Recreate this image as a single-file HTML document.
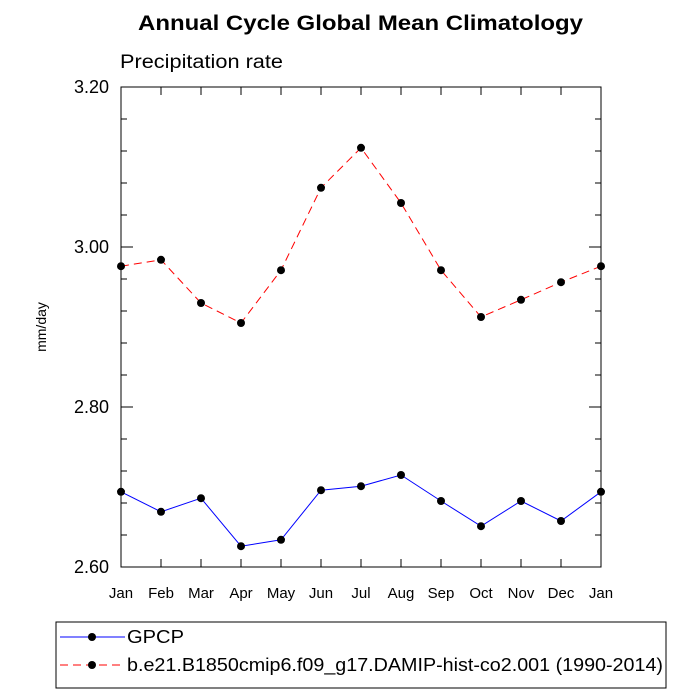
<!DOCTYPE html>
<html><head><meta charset="utf-8"><style>body{margin:0;background:#fff}svg{display:block;font-family:"Liberation Sans",sans-serif}</style></head>
<body>
<svg id="c" width="700" height="700">
<text x="138" y="30" font-size="21" font-weight="bold" textLength="445" lengthAdjust="spacingAndGlyphs">Annual Cycle Global Mean Climatology</text>
<text x="120" y="68" font-size="19" textLength="163" lengthAdjust="spacingAndGlyphs">Precipitation rate</text>
<text transform="translate(46,327) rotate(-90)" text-anchor="middle" font-size="14">mm/day</text>
<rect x="121" y="87" width="480" height="480" fill="none" stroke="#000" stroke-width="1"/>
<g id="ax"></g><g id="series"></g>
<rect x="56" y="622" width="610" height="66" fill="none" stroke="#000"/>
<g><line x1="60" y1="637" x2="125" y2="637" stroke="#00f"/><circle cx="92" cy="637" r="4"/><text x="127" y="643" font-size="18" textLength="57" lengthAdjust="spacingAndGlyphs">GPCP</text></g>
<g><line x1="60" y1="665" x2="125" y2="665" stroke="#f00" stroke-dasharray="8,5"/><circle cx="92" cy="665" r="4"/><text x="127" y="671" font-size="18" textLength="536" lengthAdjust="spacingAndGlyphs">b.e21.B1850cmip6.f09_g17.DAMIP-hist-co2.001 (1990-2014)</text></g>
</svg>
<script>
const months=["Jan","Feb","Mar","Apr","May","Jun","Jul","Aug","Sep","Oct","Nov","Dec","Jan"];
const gpcp=[2.694,2.669,2.686,2.626,2.634,2.696,2.701,2.715,2.6825,2.651,2.6825,2.6575,2.694];
const model=[2.976,2.984,2.930,2.905,2.971,3.074,3.124,3.055,2.971,2.9125,2.934,2.956,2.976];
const yTicks=["2.60","2.80","3.00","3.20"];
const NS="http://www.w3.org/2000/svg";
const L=121,R=601,T=87,B=567,ymin=2.6,ymax=3.2;
const xs=i=>L+(R-L)*i/(months.length-1);
const ys=v=>B-(v-ymin)/(ymax-ymin)*(B-T);
function mk(t,a,p){const e=document.createElementNS(NS,t);for(const k in a)e.setAttribute(k,a[k]);p.appendChild(e);return e;}
const ax=document.getElementById('ax');
months.forEach((m,i)=>{const x=xs(i);
mk('line',{x1:x,y1:B,x2:x,y2:B-8,stroke:'#000'},ax);mk('line',{x1:x,y1:T,x2:x,y2:T+8,stroke:'#000'},ax);
const t=mk('text',{x:x,y:B+31,'text-anchor':'middle','font-size':15},ax);t.textContent=m;

});
for(let v=ymin;v<=ymax+1e-9;v+=0.04){const y=ys(v);const maj=Math.abs((v-ymin)/0.2-Math.round((v-ymin)/0.2))<1e-6;const l=maj?12:6;
mk('line',{x1:L,y1:y,x2:L+l,y2:y,stroke:'#000'},ax);mk('line',{x1:R,y1:y,x2:R-l,y2:y,stroke:'#000'},ax);}
yTicks.forEach(s=>{const t=mk('text',{x:L-12,y:ys(+s)+6,'text-anchor':'end','font-size':18},ax);t.textContent=s;

});
const sg=document.getElementById('series');
function draw(d,col,dash,name){const g=mk('g',{},sg);


mk('polyline',{points:d.map((v,i)=>xs(i)+','+ys(v)).join(' '),fill:'none',stroke:col,'stroke-dasharray':dash},g);
d.forEach((v,i)=>{const c=mk('circle',{cx:xs(i),cy:ys(v),r:4},g);

});}
draw(gpcp,'#00f','none','gpcp-series');
draw(model,'#f00','8,5','model-series');
</script>
</body></html>
